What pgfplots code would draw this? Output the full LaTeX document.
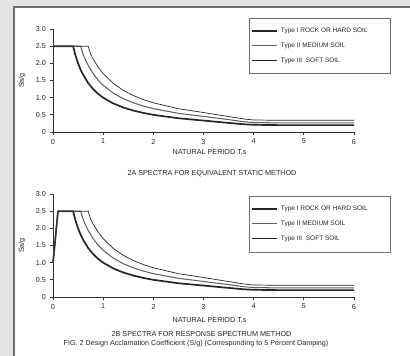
\documentclass[border=0pt]{standalone}
\usepackage{pgfplots}
\pgfplotsset{compat=1.18}
\usepackage{fontspec}
\setmainfont{Liberation Sans}
\definecolor{bggrey}{HTML}{E4E4E4}
\definecolor{framegrey}{HTML}{6E6E6E}
\newcommand{\lblfont}{\fontsize{7.2}{8}\selectfont}
\newcommand{\legfont}{\fontsize{6.5}{7}\selectfont}
\pgfplotsset{
  spectrum/.style={
    scale only axis, width=301pt, height=103pt,
    xmin=0, xmax=6, ymin=0, ymax=3,
    axis lines=left, axis line style={-, black!80, line width=0.9pt},
    enlargelimits=false, clip=false,
    xtick={0,1,2,3,4,5,6}, xticklabels={0,1,2,3,4,5,6},
    ytick={0,0.5,1,1.5,2,2.5,3}, yticklabels={0,0.5,1.0,1.5,2.0,2.5,3.0},
    tick align=outside, major tick length=3.5pt,
    tick style={black!80, line width=0.8pt},
    /pgf/number format/assume math mode=true,
    ticklabel style={font=\lblfont, text=black!85},
    label style={font=\lblfont, text=black!85},
    ylabel={Sa/g},
    y label style={at={(axis description cs:-0.103,0.5)}, anchor=center},
    legend image code/.code={\draw[##1] (0pt,0pt) -- (25pt,0pt);},
    legend cell align=left,
    legend style={draw=none, fill=none, inner sep=0pt, row sep=8.3pt, column sep=0pt,
      font=\legfont, text=black!85,
      nodes={inner ysep=0pt, inner xsep=3pt, text height=5pt, text depth=1.5pt},
      anchor=north west},
  }
}
\begin{document}
\begin{tikzpicture}[x=1pt,y=1pt]
\useasboundingbox (0,0) rectangle (410,356);
\fill[bggrey] (0,0) rectangle (410,356);
\fill[white] (14,0) rectangle (410,349);
\draw[framegrey, line width=1.6pt] (14,0) -- (14,349) -- (411,349);

% ---------- 2A ----------
\begin{axis}[spectrum, at={(53pt,224pt)}, anchor=south west,
  legend style={at={(rel axis cs:0.658,1.015)}},
  xlabel={NATURAL PERIOD T,s},
  x label style={at={(axis description cs:0.52,-0.195)}, anchor=center}]
\addplot[black!85, line width=1.7pt, line join=round] coordinates {(0,2.5)(0.4,2.5)(0.45,2.222)(0.5,2.0)(0.55,1.818)(0.6,1.667)(0.7,1.429)(0.8,1.25)(0.9,1.111)(1.0,1.0)(1.2,0.833)(1.4,0.714)(1.6,0.625)(1.8,0.556)(2.0,0.5)(2.5,0.4)(3.0,0.333)(3.5,0.265)(3.8,0.225)(4.0,0.21)(4.5,0.2)(6,0.2)};
\addlegendentry{Type I ROCK OR HARD SOIL}
\addplot[black!62, line width=1.05pt, line join=round] coordinates {(0,2.5)(0.55,2.5)(0.6,2.267)(0.65,2.092)(0.7,1.943)(0.8,1.7)(0.9,1.511)(1.0,1.36)(1.2,1.133)(1.4,0.971)(1.6,0.85)(1.8,0.756)(2.0,0.68)(2.5,0.544)(3.0,0.453)(3.5,0.36)(3.8,0.3)(4.0,0.275)(4.5,0.265)(6,0.265)};
\addlegendentry{Type II MEDIUM SOIL}
\addplot[black!85, line width=0.7pt, line join=round] coordinates {(0,2.5)(0.7,2.5)(0.75,2.267)(0.8,2.125)(0.9,1.889)(1.0,1.7)(1.2,1.417)(1.4,1.214)(1.6,1.063)(1.8,0.944)(2.0,0.85)(2.5,0.68)(3.0,0.567)(3.5,0.45)(3.8,0.38)(4.0,0.35)(4.5,0.34)(6,0.34)};
\addlegendentry{Type III\ \ SOFT SOIL}
\end{axis}
\draw[framegrey, line width=0.9pt] (249,338) rectangle (390,283);
\node[font=\lblfont, text=black!85] at (212,182) {2A SPECTRA FOR EQUIVALENT STATIC METHOD};

% ---------- 2B ----------
\begin{axis}[spectrum, at={(53pt,59pt)}, anchor=south west,
  legend style={at={(rel axis cs:0.658,0.888)}},
  xlabel={NATURAL PERIOD T,s},
  x label style={at={(axis description cs:0.52,-0.23)}, anchor=center}]
\addplot[black!85, line width=1.7pt, line join=round] coordinates {(0,1.0)(0.1,2.5)(0.4,2.5)(0.45,2.222)(0.5,2.0)(0.55,1.818)(0.6,1.667)(0.7,1.429)(0.8,1.25)(0.9,1.111)(1.0,1.0)(1.2,0.833)(1.4,0.714)(1.6,0.625)(1.8,0.556)(2.0,0.5)(2.5,0.4)(3.0,0.333)(3.5,0.265)(3.8,0.225)(4.0,0.21)(4.5,0.2)(6,0.2)};
\addlegendentry{Type I ROCK OR HARD SOIL}
\addplot[black!62, line width=1.05pt, line join=round] coordinates {(0,1.0)(0.1,2.5)(0.55,2.5)(0.6,2.267)(0.65,2.092)(0.7,1.943)(0.8,1.7)(0.9,1.511)(1.0,1.36)(1.2,1.133)(1.4,0.971)(1.6,0.85)(1.8,0.756)(2.0,0.68)(2.5,0.544)(3.0,0.453)(3.5,0.36)(3.8,0.3)(4.0,0.275)(4.5,0.265)(6,0.265)};
\addlegendentry{Type II MEDIUM SOIL}
\addplot[black!85, line width=0.7pt, line join=round] coordinates {(0,1.0)(0.1,2.5)(0.7,2.5)(0.75,2.267)(0.8,2.125)(0.9,1.889)(1.0,1.7)(1.2,1.417)(1.4,1.214)(1.6,1.063)(1.8,0.944)(2.0,0.85)(2.5,0.68)(3.0,0.567)(3.5,0.45)(3.8,0.38)(4.0,0.35)(4.5,0.34)(6,0.34)};
\addlegendentry{Type III\ \ SOFT SOIL}
\end{axis}
\draw[framegrey, line width=0.9pt] (249,160) rectangle (390,104);
\node[font=\lblfont, text=black!85] at (201.5,22) {2B SPECTRA FOR RESPONSE SPECTRUM METHOD};
\node[font=\lblfont, text=black!85] at (196,12) {FIG. 2 Design Acclamation Coefficient (S/g) (Corresponding to 5 Percent Damping)};
\end{tikzpicture}
\end{document}
